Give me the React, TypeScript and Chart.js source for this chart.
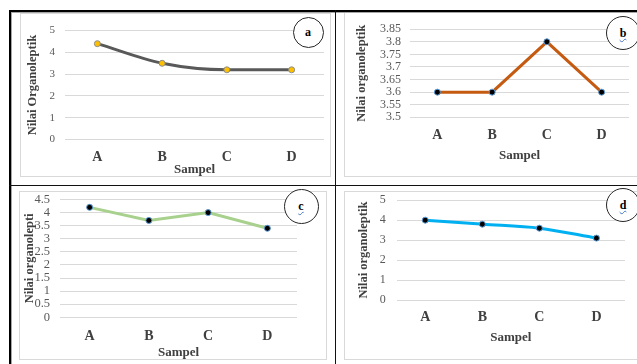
import React, { useEffect, useRef } from "react";
import { Chart, registerables } from "chart.js";

Chart.register(...registerables);
Chart.defaults.font.family = "'Liberation Serif', 'Times New Roman', serif";

// ---- data ----
const categories = ["A", "B", "C", "D"];
const valuesA = [4.4, 3.5, 3.2, 3.2];
const valuesB = [3.6, 3.6, 3.8, 3.6];
const valuesC = [4.2, 3.7, 4.0, 3.4];
const valuesD = [4.0, 3.8, 3.6, 3.1];
const yTitleA = "Nilai Organoleptik";
const yTitleB = "Nilai organoleptik";
const yTitleC = "Nilai organolepti";
const yTitleD = "Nilai organoleptik";
const xTitle = "Sampel";
const panelLabels = ["a", "b", "c", "d"];
const yRangeA = [0, 5, 1];
const yRangeB = [3.5, 3.85, 0.05];
const yRangeC = [0, 4.5, 0.5];
const yRangeD = [0, 5, 1];

type Cfg = {
  values: number[];
  yTitle: string;
  range: number[];
  color: string;
  pointFill: string;
  pointBorder: string;
  monotone: boolean;
  tickSize: number;
  left: number;
  top: number;
  w: number;
  h: number;
  yWidth: number;
  padTop: number;
  padRight: number;
  padBottom: number;
  xHeight: number;
  yTickPad: number;
  yTitlePad: number;
  xTickPad: number;
};

const panels: Cfg[] = [
  {
    values: valuesA, yTitle: yTitleA, range: yRangeA, color: "#595959",
    pointFill: "#FFC000", pointBorder: "#8c8c8c", monotone: true, tickSize: 11,
    left: 21, top: 14, w: 308, h: 170, yWidth: 44, padTop: 10, padRight: 5,
    padBottom: 7, xHeight: 37.5, yTickPad: 10, yTitlePad: 4.5, xTickPad: 9.6,
  },
  {
    values: valuesB, yTitle: yTitleB, range: yRangeB, color: "#C55A11",
    pointFill: "#000000", pointBorder: "#5b9bd5", monotone: false, tickSize: 12,
    left: 345, top: 13, w: 292, h: 170, yWidth: 65, padTop: 12, padRight: 8,
    padBottom: 19.5, xHeight: 46.2, yTickPad: 9, yTitlePad: 9.5, xTickPad: 10,
  },
  {
    values: valuesC, yTitle: yTitleC, range: yRangeC, color: "#A9D18E",
    pointFill: "#000000", pointBorder: "#5b9bd5", monotone: false, tickSize: 12.5,
    left: 20, top: 182, w: 306, h: 180, yWidth: 40, padTop: 13, padRight: 29,
    padBottom: 2, xHeight: 42.7, yTickPad: 10, yTitlePad: 2.5, xTickPad: 10.3,
  },
  {
    values: valuesD, yTitle: yTitleD, range: yRangeD, color: "#00B0F0",
    pointFill: "#000000", pointBorder: "#5b9bd5", monotone: true, tickSize: 12,
    left: 345, top: 182, w: 292, h: 180, yWidth: 51.7, padTop: 18, padRight: 12,
    padBottom: 16.5, xHeight: 45.5, yTickPad: 11, yTitlePad: 10.8, xTickPad: 9.3,
  },
];

function Panel({ cfg }: { cfg: Cfg }) {
  const ref = useRef<HTMLCanvasElement>(null);
  useEffect(() => {
    const chart = new Chart(ref.current as HTMLCanvasElement, {
      type: "line",
      data: {
        labels: categories,
        datasets: [
          {
            data: cfg.values,
            borderColor: cfg.color,
            borderWidth: 3,
            tension: 0,
            cubicInterpolationMode: cfg.monotone ? "monotone" : "default",
            pointRadius: 3,
            pointBackgroundColor: cfg.pointFill,
            pointBorderColor: cfg.pointBorder,
            pointBorderWidth: 1,
            fill: false,
          },
        ],
      },
      options: {
        animation: false,
        responsive: false,
        devicePixelRatio: 1,
        layout: { padding: { top: cfg.padTop, right: cfg.padRight, bottom: cfg.padBottom, left: 0 } },
        plugins: { legend: { display: false }, tooltip: { enabled: false } },
        scales: {
          x: {
            offset: true,
            grid: { display: false, drawTicks: false },
            border: { display: false },
            ticks: { padding: cfg.xTickPad, color: "#404040", font: { size: 14, weight: "bold" } },
            title: { display: true, text: xTitle, color: "#404040", font: { size: 13, weight: "bold" }, padding: 0 },
            afterFit: (s: any) => { s.height = cfg.xHeight; },
          },
          y: {
            min: cfg.range[0],
            max: cfg.range[1],
            ticks: {
              stepSize: cfg.range[2],
              autoSkip: false,
              padding: cfg.yTickPad,
              color: "#595959",
              font: { size: cfg.tickSize },
              callback: (v: any) => String(parseFloat(Number(v).toFixed(2))),
            },
            grid: { color: "#d9d9d9", drawTicks: false, lineWidth: 1 },
            border: { display: false },
            title: {
              display: true, text: cfg.yTitle, color: "#404040",
              font: { size: 12.5, weight: "bold" }, padding: { top: cfg.yTitlePad, bottom: 0 },
            },
            afterFit: (s: any) => { s.width = cfg.yWidth; },
          },
        },
      } as any,
    });
    return () => chart.destroy();
  }, [cfg]);
  return (
    <canvas
      ref={ref}
      width={cfg.w}
      height={cfg.h}
      style={{ position: "absolute", left: cfg.left, top: cfg.top, width: cfg.w, height: cfg.h }}
    />
  );
}

const abs = (l: number, t: number, w: number, h: number, extra: any = {}) => ({
  position: "absolute" as const, left: l, top: t, width: w, height: h, ...extra,
});

const frames = [
  [20, 13, 311, 164],
  [344, 12, 300, 165],
  [19, 191, 308, 169],
  [344, 191, 300, 169],
];

const circles = [
  { cx: 308, cy: 32, d: 31, u: false },
  { cx: 623, cy: 33, d: 34, u: true },
  { cx: 301, cy: 206, d: 35, u: true },
  { cx: 623, cy: 205, d: 34, u: true },
];

export default function App() {
  return (
    <div style={{ position: "fixed", left: 0, top: 0, width: 637, height: 364, overflow: "hidden", background: "#fff" }}>
      {frames.map((f, i) => (
        <div key={"f" + i} style={abs(f[0], f[1], f[2], f[3], { border: "1px solid #d9d9d9", boxSizing: "border-box" })} />
      ))}
      <div style={abs(9, 10, 628, 2, { background: "#000" })} />
      <div style={abs(9, 10, 2, 354, { background: "#000" })} />
      <div style={abs(11, 12, 626, 1, { background: "#a6a6a6" })} />
      <div style={abs(11, 12, 1, 352, { background: "#a6a6a6" })} />
      <div style={abs(335, 10, 1, 354, { background: "#111" })} />
      <div style={abs(9, 185, 628, 1, { background: "#111" })} />
      {panels.map((p, i) => (
        <Panel key={"p" + i} cfg={p} />
      ))}
      {circles.map((c, i) => (
        <div
          key={"c" + i}
          style={abs(c.cx - c.d / 2, c.cy - c.d / 2, c.d, c.d, {
            border: "1px solid #262626",
            borderRadius: "50%",
            background: "#fff",
            boxSizing: "border-box",
            display: "flex",
            alignItems: "center",
            justifyContent: "center",
            fontFamily: "'Liberation Serif', serif",
            fontWeight: "bold",
            fontSize: 12,
            color: "#000",
          })}
        >
          <span style={c.u ? { textDecoration: "underline wavy #4472c4", textDecorationThickness: 1 } : {}}>
            {panelLabels[i]}
          </span>
        </div>
      ))}
    </div>
  );
}
